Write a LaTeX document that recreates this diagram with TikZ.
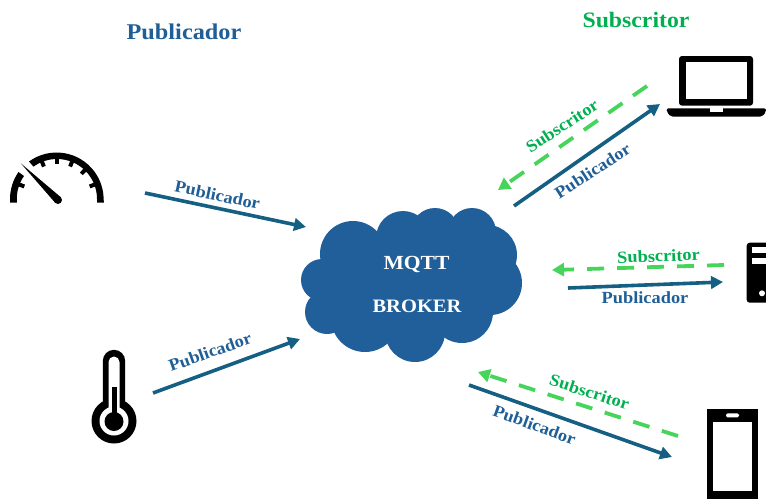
\documentclass[tikz,border=0pt]{standalone}
\usepackage{fontspec}
\setmainfont{Liberation Serif}[FakeStretch=1.08]
\usetikzlibrary{arrows.meta}
\definecolor{cloudblue}{HTML}{215F9A}
\definecolor{arrowblue}{HTML}{156082}
\definecolor{labelblue}{HTML}{1F5E96}
\definecolor{dashgreen}{HTML}{47D45A}
\definecolor{subgreen}{HTML}{00B050}
\tikzset{
  x=1pt,y=-1pt,
  pubarrow/.style={draw=arrowblue,line width=3.6pt,-{Triangle[length=12pt,width=12.5pt]}},
  subarrow/.style={draw=dashgreen,line width=3.8pt,dash pattern=on 17pt off 13pt,-{Triangle[length=12pt,width=13pt]}},
  publabel/.style={font=\bfseries\fontsize{17}{20}\selectfont,text=labelblue,inner sep=0pt},
  sublabel/.style={font=\bfseries\fontsize{17}{20}\selectfont,text=subgreen,inner sep=0pt},
  lobe/.style={fill=cloudblue,draw=none},
  icon/.style={fill=black,draw=none},
}
\begin{document}
\begin{tikzpicture}
\useasboundingbox (0,0) rectangle (766,499);
% cloud
\foreach \cx/\cy/\r in {353/254/33,322/280/21,327/312/22,365/318/34,415/332/30,462/312/31,490/283/32,487/255/30,472/232/24,435/232/24,403/238/27}{
  \fill[lobe] (\cx,\cy) circle[radius=\r];
}
\fill[lobe] (335,265) rectangle (480,320);
\fill[lobe] (360,235) rectangle (480,265);
\node[font=\bfseries\fontsize{20}{24}\selectfont,text=white,inner sep=0pt] (mqtt) at (416.5,264) {MQTT};
\node[font=\bfseries\fontsize{19}{24}\selectfont,text=white,inner sep=0pt] (broker) at (417,306) {BROKER};
% titles
\node[font=\bfseries\fontsize{22.5}{26}\selectfont,text=labelblue,inner sep=0pt] (tpub) at (184,32) {Publicador};
\node[font=\bfseries\fontsize{22}{26}\selectfont,text=subgreen,inner sep=0pt] (tsub) at (636,20) {Subscritor};
% arrow end points
\coordinate (g1) at (145,193); \coordinate (c1) at (306,227);
\coordinate (t1) at (153,393); \coordinate (c2) at (300,339);
\coordinate (c3) at (514,206); \coordinate (l1) at (660,104);
\coordinate (l2) at (647,86);  \coordinate (c4) at (498,190);
\coordinate (c5) at (568,288); \coordinate (s1) at (723,282);
\coordinate (s2) at (724,265); \coordinate (c6) at (552,270);
\coordinate (c7) at (469,385); \coordinate (p1) at (672,457);
\coordinate (p2) at (678,436); \coordinate (c8) at (478,372);
\draw[pubarrow] (g1) -- (c1);
\draw[pubarrow] (t1) -- (c2);
\draw[pubarrow] (c3) -- (l1);
\draw[subarrow] (l2) -- (c4);
\draw[pubarrow] (c5) -- (s1);
\draw[subarrow] (s2) -- (c6);
\draw[pubarrow] (c7) -- (p1);
\draw[subarrow] (p2) -- (c8);
% labels
\node[publabel,rotate=-12] (la) at (217.5,195) {Publicador};
\node[publabel,rotate=19.5] (lb) at (210,352) {Publicador};
\node[publabel,rotate=33] (lc) at (592.5,171) {Publicador};
\node[sublabel,rotate=33] (ld) at (562,126) {Subscritor};
\node[publabel] (le) at (645,298) {Publicador};
\node[sublabel,rotate=2] (lf) at (658.5,256) {Subscritor};
\node[publabel,rotate=-20] (lg) at (534.5,425) {Publicador};
\node[sublabel,rotate=-18] (lh) at (589.5,392) {Subscritor};
% gauge
\fill[icon] (10,202.5) -- (10,199) arc[start angle=-180,end angle=-145,radius=47] -- (24,176) arc[start angle=-145,end angle=-180,radius=40] -- (17,202.5) -- cycle;
\fill[icon] (29,161.5) arc[start angle=-126,end angle=0,radius=47] -- (104,202.5) -- (97,202.5) -- (97,199) arc[start angle=0,end angle=-126,radius=40] -- cycle;
\foreach \a in {21,46,68,90,112,159}{
  \fill[icon] ({57+41*cos(\a)-2*sin(\a)},{199-41*sin(\a)-2*cos(\a)}) -- ({57+35*cos(\a)-2*sin(\a)},{199-35*sin(\a)-2*cos(\a)}) -- ({57+35*cos(\a)+2*sin(\a)},{199-35*sin(\a)+2*cos(\a)}) -- ({57+41*cos(\a)+2*sin(\a)},{199-41*sin(\a)+2*cos(\a)}) -- cycle;
}
\fill[icon] (21,163.5) -- (60.8,197.2) -- (55.2,202.8) -- cycle;
\fill[icon] (58,200) circle[radius=4];
% thermometer
\fill[icon] (114,421) circle[radius=22.5];
\fill[icon] (102.8,410) -- (102.8,361) arc[start angle=-180,end angle=0,radius=11.2] -- (125.2,410) -- cycle;
\fill[white] (108.5,412) -- (108.5,362) arc[start angle=-180,end angle=0,radius=5.5] -- (119.5,412) -- cycle;
\fill[white] (114,421) circle[radius=14.5];
\fill[icon] (112,386.5) rectangle (116.5,415);
\fill[icon] (114,421.5) circle[radius=9.5];
% laptop
\fill[icon,rounded corners=3pt] (679,56) rectangle (753,105.7);
\fill[white] (686,62.3) rectangle (746.7,99.3);
\path[icon,rounded corners=2pt] (666.7,108.3) -- (766,108.3) -- (766,112) -- (762,116.7) -- (671,116.7) -- (666.7,112) -- cycle;
\fill[white] (710,108.3) rectangle (722.7,111.5);
% server
\fill[icon,rounded corners=3pt] (746.7,242.7) rectangle (775,302.7);
\fill[white] (752,247.3) rectangle (766,253.3);
\fill[white] (752,258.3) rectangle (766,264.3);
\fill[white] (762,293.3) circle[radius=3];
% phone
\fill[icon] (707,409) rectangle (758.3,499);
\fill[white] (713.3,421.7) rectangle (752,490.7);
\fill[white,rounded corners=1.5pt] (726,413.3) rectangle (739,417.3);
\end{tikzpicture}
\end{document}
